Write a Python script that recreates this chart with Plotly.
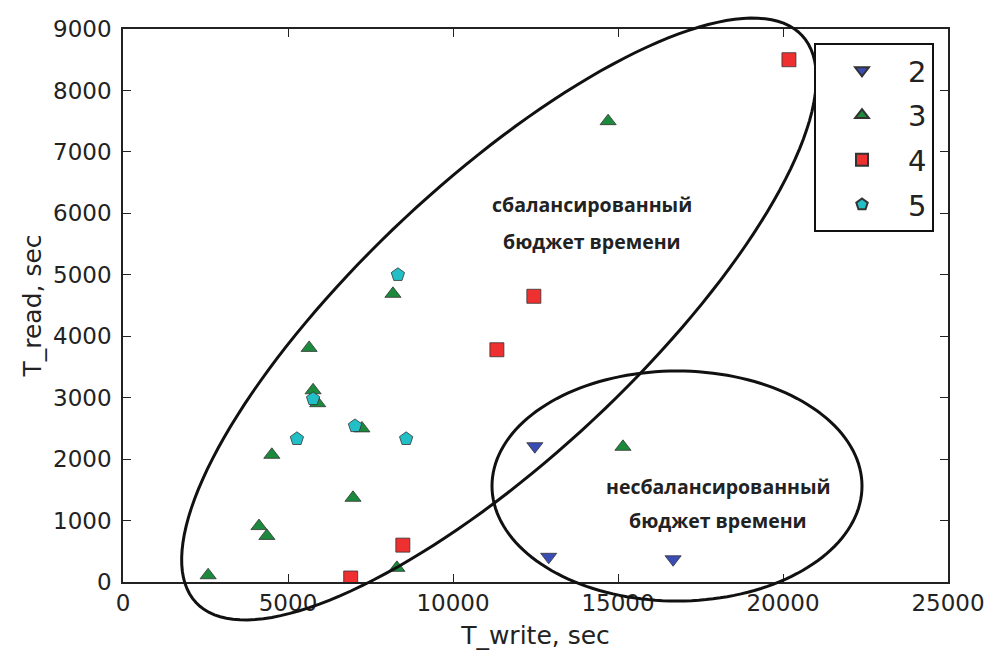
import numpy as np
import plotly.graph_objects as go

# ---- data ----
series_names = ["2", "3", "4", "5"]
t_write_2 = [12480, 12900, 16670]
t_read_2 = [2210, 410, 370]
t_write_3 = [14700, 8180, 5640, 5760, 5900, 7240, 4510, 6970, 4120, 4360, 2580, 8300, 15150]
t_read_3 = [7500, 4690, 3810, 3120, 2910, 2500, 2070, 1370, 910, 750, 110, 230, 2200]
t_write_4 = [20180, 12450, 11330, 8480, 6900]
t_read_4 = [8500, 4650, 3780, 600, 65]
t_write_5 = [8330, 5760, 7030, 5270, 8580]
t_read_5 = [5000, 2980, 2540, 2330, 2330]
x_ticks = [0, 5000, 10000, 15000, 20000, 25000]
y_ticks = [0, 1000, 2000, 3000, 4000, 5000, 6000, 7000, 8000, 9000]
label_balanced = ["сбалансированный", "бюджет времени"]
label_unbalanced = ["несбалансированный", "бюджет времени"]

W, H = 989, 655
ML, MR, MT, MB = 123, 41, 29, 73
PW, PH = W - ML - MR, H - MT - MB

fig = go.Figure()
styles = [
    (t_write_2, t_read_2, "triangle-down", "#3a4db4"),
    (t_write_3, t_read_3, "triangle-up", "#1b8a3c"),
    (t_write_4, t_read_4, "square", "#ee3030"),
    (t_write_5, t_read_5, "pentagon", "#22c0c6"),
]
for i, (name, (xs, ys, sym, col)) in enumerate(zip(series_names, styles)):
    fig.add_trace(go.Scatter(
        x=xs, y=ys, mode="markers", name=name, legendgroup=name,
        marker=dict(symbol=sym, size=14, color=col, line=dict(color="#333333", width=0.8)),
    ))


def px2paper(px, py):
    return (px - ML) / PW, (H - MB - py) / PH


def ellipse_path(cx, cy, a, b, theta_deg, n=160):
    th = np.radians(theta_deg)
    t = np.linspace(0, 2 * np.pi, n, endpoint=False)
    px = cx + a * np.cos(th) * np.cos(t) - b * np.sin(th) * np.sin(t)
    py = cy + a * np.sin(th) * np.cos(t) + b * np.cos(th) * np.sin(t)
    xp, yp = px2paper(px, py)
    pts = [f"{x:.5f},{y:.5f}" for x, y in zip(xp, yp)]
    return "M" + " L".join(pts) + " Z"


fig.add_shape(type="path", xref="paper", yref="paper",
              path=ellipse_path(499, 319, 415, 138, -43.1),
              line=dict(color="#111111", width=3))
fig.add_shape(type="path", xref="paper", yref="paper",
              path=ellipse_path(677, 486, 185, 115, 0),
              line=dict(color="#111111", width=3))

ann_font = dict(family="Open Sans", size=19.5, color="#222222")
for text, (cx, cy) in zip(label_balanced + label_unbalanced,
                          [(592, 205), (592, 241), (718, 486), (718, 520)]):
    ax, ay = px2paper(cx, cy)
    fig.add_annotation(xref="paper", yref="paper", x=ax, y=ay, text=f"<b>{text}</b>",
                       xanchor="center", yanchor="middle",
                       showarrow=False, font=ann_font, align="center")

tick_font = dict(family="DejaVu Sans", size=23, color="#222222")
title_font = dict(family="DejaVu Sans", size=25, color="#222222")
axis_common = dict(
    showgrid=False, zeroline=False, showline=True, linecolor="#222222", linewidth=1.5,
    mirror="ticks", ticks="inside", ticklen=8, tickwidth=1, tickcolor="#222222",
    tickfont=tick_font, automargin=False,
)
fig.update_xaxes(range=[0, 25000], tickvals=x_ticks, ticktext=[str(v) for v in x_ticks],
                 title=dict(text="T_write, sec", font=title_font, standoff=11),
                 **axis_common)
fig.update_yaxes(range=[0, 9000], tickvals=y_ticks, ticktext=[str(v) for v in y_ticks],
                 ticklabelstandoff=5,
                 title=dict(text="T_read, sec", font=title_font, standoff=4),
                 **axis_common)

fig.update_layout(
    width=W, height=H, autosize=False,
    margin=dict(l=ML, r=MR, t=MT, b=MB, pad=0, autoexpand=False),
    plot_bgcolor="white", paper_bgcolor="white",
    showlegend=True,
    legend=dict(x=(814 - ML) / PW, y=(H - MB - 43) / PH, xanchor="left", yanchor="top",
                bgcolor="white", bordercolor="#111111", borderwidth=2,
                font=dict(family="DejaVu Sans", size=29, color="#222222"),
                itemwidth=82, tracegroupgap=4, itemsizing="constant"),
)

fig.write_html("out.html")
